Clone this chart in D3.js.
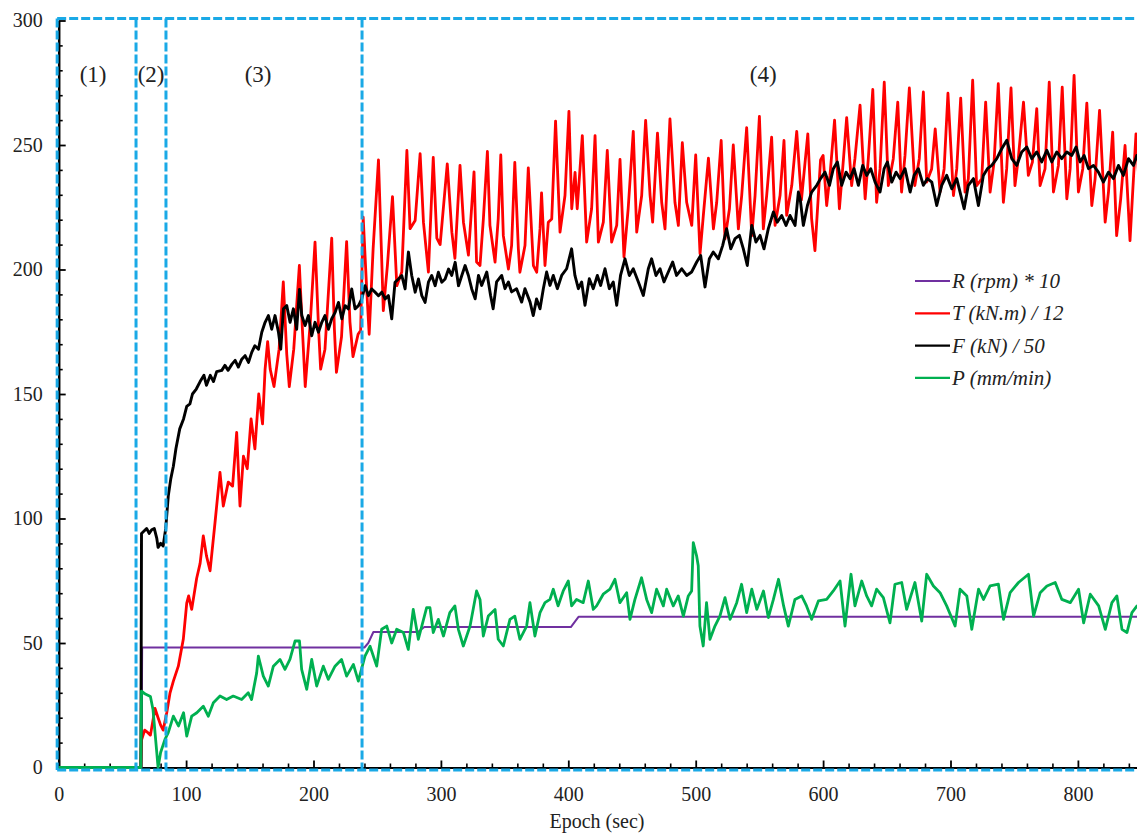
<!DOCTYPE html>
<html>
<head>
<meta charset="utf-8">
<script src="https://cdn.jsdelivr.net/npm/d3@7"></script>
<style>
  body { margin: 0; background: #fff; }
  text { font-family: "Liberation Serif", "Times New Roman", serif; }
</style>
</head>
<body>
<div id="chart"></div>
<script>
// epoch (sec), value
const rpmData = [[0,0],[65,0],[65.5,48.2],[240,48.2],[243,50],[247,54.4],[282,54.4],[287,56.4],[402,56.4],[408,60.5],[850,60.5]];

const torqueData = [
  [0,0],[64.5,0],[65,11],[67.5,15],[70,14],[72,13],[75.6,23.7],[78,20],[80,17],[82,15],[84.8,22],[87.4,30],[90,34.7],
  [93.9,40.7],[97.8,51.5],[100.5,66],[102,68.9],[104.4,63.5],[108.3,76],[111,82],[113.5,93],[116,85],[118.8,79],
  [122.7,98.4],[126.6,118.5],[129.2,105],[133.1,114.6],[136.5,113],[139.7,134.6],[142.3,105],[145,125],[148,120],
  [151,140],[154,128],[157,150],[160,138],[162,160],[164,171],[166,160],[169,153],[173,168],[176.3,195],[179,166],
  [181,153],[184.5,168],[188.9,201.6],[191,179],[193.5,153],[197.5,179],[201.2,211],[204,176],[205.6,160],[209,168],
  [214.3,212.6],[216.4,176],[218,158.7],[222,173],[226,211.2],[228.6,179],[231,165],[235,174],[237,175.5],[239,221],
  [241.6,193.5],[243.7,174],[246.8,208.3],[251,244],[253.6,203],[254.8,183.5],[258,201.6],[262,229.3],[265.4,193.5],
  [269.3,199],[273.3,247.8],[275.8,216.4],[279.8,219.7],[283.7,246.5],[286.3,219],[290.2,199],[294,245],[296.8,212.6],
  [299.4,210],[305,242.4],[308.6,215],[311,204.5],[315,241.8],[317.7,219],[321.6,205.8],[326,239.2],
  [328,203],[330.7,201.6],[333.3,220],[336.5,247.4],[338.5,217.7],[342.5,203],[345,220.3],[347,246],[349,213.6],
  [353,200.2],[355.5,209.6],[358,243],[360.8,208.3],[362,198.9],[366,209.6],[368.6,240.8],[372.6,201.6],[375.2,198.9],
  [377.8,216.3],[379,230.8],[381.7,201.6],[384.3,219],[387,220.3],[390,259.6],[393.5,215],[397.4,229.7],[400.5,263.5],
  [402.7,224.4],[405.3,239],[407,224.4],[411,253.8],[414.4,211],[418.3,224.4],[421,253.8],[423.6,211],[427.5,219],
  [430.6,247.8],[434,211],[438,217.7],[440.6,244.2],[443.7,205],[447,224.4],[451,255.5],[453.7,215],[457.6,229.7],
  [460.7,259.9],[464.2,229.7],[466.2,219],[470,254.8],[473.3,227],[475.9,216.3],[479.8,260.5],[483.7,227],[486.4,217.7],
  [489.5,250.9],[492.9,227],[496.9,217.7],[500,246],[503.4,206.3],[506,221.7],[510,244.7],[513.9,216.3],[516.5,227],
  [520,251.8],[523,212.3],[526.5,224.4],[529.5,250],[533.5,216.3],[536.1,229.7],[540,257],[544,213.6],[546.6,229.7],
  [550,261.5],[553.1,216.3],[555.7,229.7],[559.6,253.2],[562.3,217.7],[566.2,229.7],[569.3,251.8],[571.4,221.7],
  [575.4,233.7],[579.3,255.5],[583,228],
  [588,254.5],[591,220.3],[593.6,207.6],[598,244],[600,245.8],[602.8,225.7],[605.4,237.8],[609,260],[612.8,224.4],
  [616,244.5],[618.5,261],[622.4,233.7],[625,244.5],[629,266],[633,228.4],[635.5,244.5],[639,272.3],[642,227],
  [644.7,240.4],[648,275.2],[651.2,233.7],[655.1,244.5],[658.6,267.2],[661.6,231.1],[664.3,245.8],[667.7,272.9],
  [672,233.7],[675.5,244.5],[678.7,271.3],[681.3,235.1],[685.2,240.4],[688,256.5],[691.8,231.1],[695,240.4],
  [698,270.8],[702.3,229.7],[704.9,240.4],[708,268.8],[711.4,231.1],[714,236.4],[717.4,276],[720.5,233.7],
  [724.5,236.4],[727.6,267.2],[731.1,231.1],[734.2,243.1],[737.5,274.6],[741.5,227],[744.1,240.4],[747.5,272.9],
  [750.6,233.7],[753.2,244.5],[757.3,267.2],[761.1,237.8],[764.3,243.1],[767.7,264.6],[770.3,233.7],[774.2,240.4],
  [777.5,275.2],[780.8,231.1],[784.7,241.8],[787.7,273.2],[791.3,228.4],[793.9,240.4],[797,278],[800.4,231.1],
  [803.8,240.4],[807,266.8],[810.9,225.7],[813.5,236.4],[817,263.9],[821.4,219],[824,231.1],[827.3,255.2],
  [830.4,213.6],[833.6,228.4],[837,249.8],[840.9,211.6],[843,231.1],[845.6,254.5],[848,235]
];

const forceData = [
  [0,0],[64.5,0],[65,94],[67,95],[69,96],[71,94],[73,95.5],[75,96],[77,92],[78,88.4],[80,90],[82,89],[84,96],
  [86,109],[88,116],[90,121],[92,128],[95,136],[98,140],[100.5,145],[103,146],[105,150],[108,152],
  [111,155],[114,157.5],[116,153.5],[119,157.5],[121.5,155],[124,159],[128,159.5],[130.5,161.5],[133,159.5],[136,162],
  [138.5,163.5],[141,160.8],[143.7,164],[146.3,165.4],[149,162.7],[151.5,166.7],[154,169.4],[156.8,168],[159.4,174.8],
  [162,178.8],[164.6,181.5],[167.2,176],[169.8,181.5],[172.5,174.8],[174.3,168],[176.4,184.2],[179,185.5],[181.6,178.8],
  [184.2,184.2],[186.8,176],[189,192],[190.8,181.5],[193.4,177.5],[196,181.5],[198.6,173.4],[201.2,178.8],[203.9,174.8],
  [206.5,178.8],[209,181.5],[211.7,176],[214.3,180.2],[217,182.8],[219.6,186.8],[222.2,180.2],[224.8,185.5],[227.4,184.2],
  [230,192.2],[232.6,184.2],[235.3,185.5],[237.9,188.2],[240.5,193.5],[243.1,189.5],[245.7,192.2],[248.3,190.9],
  [251,189.5],[253.6,190.9],[256.2,188.2],[258.8,189.5],[261.4,180.2],[264,194.9],[266.7,196.2],[269.3,197.6],
  [271.9,192.2],[274.5,207],[277.1,197.6],[279.8,190.9],[282.4,196.2],[285,189.5],[287.6,186.8],[290.2,194.9],
  [292.8,197.6],[295.5,193.5],[298,198.9],[300.7,194.9],[303.3,196.2],[306,200.2],[308.5,197.6],[311.2,202.9],
  [313.8,193.5],[316.4,197.6],[319,201.6],[321.6,197.6],[324.2,192.2],[326.9,188.2],[329.5,197.6],
  [332,193.6],[336,199],[339,189.6],[341,184.2],[343.7,195],[347.7,197.6],[350.3,192.3],[353,195],[355.5,191],
  [359.4,192.3],[363.4,186.9],[366,192.3],[370,186.9],[372.5,181.5],[375.1,188.2],[377.8,184.2],[380.4,192.3],
  [383,199],[385.6,193.6],[388.2,197.6],[391.4,192.3],[394.8,197.6],[398.7,200.3],[402.6,208.3],[405.2,197.6],
  [407.9,192.3],[410.5,195],[413.1,185.6],[416.5,196.3],[419.6,192.3],[422.8,197.6],[425.4,193.6],[428.8,200.3],
  [432.2,192.3],[435.3,195],[438,185.6],[441,197.6],[444.5,204.3],[447.9,197.6],[451,200.3],[455,195],[458.9,189.6],
  [462.8,200.3],[465.4,204.3],[468.8,197.6],[472,200.3],[475.1,195],[478.5,199],[481.9,203],[485,197.6],[489,200.3],
  [492.9,197.6],[496.8,199],[500.8,203],[503.9,205.6],[507.3,193],[510.7,204.3],[513.8,207],[517.8,204.3],
  [521.2,209.7],[524.3,216.4],[527.5,208.3],[530.9,212.4],[534.3,213.7],[537.4,208.3],[540.5,201.6],[544,217.7],
  [547.3,211],[550.5,213.7],[553.6,208.3],[557,216.4],[561,223.1],[564,219],[567.5,221.7],[570.9,217.7],[574,221.7],
  [578,217.7],[580.6,231.1],
  [582,228.4],[584.5,217.7],[587.7,225.7],[591,231.1],[595,233.8],[598,236.5],[601.5,239.1],[605,233.8],[608,240.5],
  [611.2,243.2],[614.6,233.8],[618,239.1],[621.2,236.5],[624.3,240.5],[627.7,233.8],[631.1,241.8],[634.2,237.8],
  [637.4,240.5],[640.8,235.1],[644.7,231.1],[647.9,240.5],[650.5,243.2],[653.9,235.1],[657.3,239.1],[660.4,236.5],
  [664.3,240.5],[668.3,231.1],[671.4,237.8],[674.8,240.5],[678.7,233.8],[681.9,236.5],[685.3,235.1],[689.2,225.7],
  [693.1,233.8],[697,237.8],[701,232.4],[704.9,236.5],[707.5,231.1],[710.7,224.4],[714,233.8],[718,236.5],
  [721.9,225.7],[725.8,237.8],[729,240.5],[732.4,241.8],[736.3,244.5],[740.2,248.5],[744.2,251.9],[748.1,244.5],
  [752,241.8],[755.9,247.2],[759.9,249.2],[763.8,244.5],[767.7,247.2],[771.6,243.2],[775.6,247.9],[779.5,243.2],
  [783.4,247.2],[787.3,244.5],[791.3,247.2],[795.2,245.8],[798.6,249.2],[801.7,243.2],[804.9,245.8],[808.3,240.5],
  [812.2,241.8],[816.1,239.1],[820,235.1],[824,239.1],[827.9,236.5],[831.8,241.8],[835.7,237.8],[839.7,244.5],
  [843.6,241.8],[846.2,245.8],[848,243]
];

const penData = [
  [0,0],[64.5,0],[65,30.7],[68,29.5],[72,28.5],[74,23.3],[77,6],[78,0],[80,6],[83.4,11.3],[86,14],[90,20.6],[94,16.7],
  [98,22],[100.5,12.6],[104.4,20.6],[108.4,22],[113.5,24.6],[117.4,20.6],[121.4,26],[126.6,28.7],[131.8,27.3],
  [137,28.7],[143.6,27.3],[148.8,30],[151.4,27.3],[155.4,38],[156.7,44.7],[160.6,36.7],[164.5,32.7],[168.5,40.7],
  [173.7,43.4],[177.6,39.4],[181.5,43.4],[185.5,50.8],[189,50.8],[190.7,39.4],[194.7,31.4],[198.6,43.4],[202.5,32.7],
  [207.7,40.7],[211.6,35.4],[216.9,40.7],[222,43.4],[226,36.7],[231.3,41.4],[235.2,34.7],[240.4,44.7],[244.4,48.7],
  [249.6,40.7],[253.5,55.5],[257.5,56.8],[261.4,50],[265.3,55.5],[270.6,54.2],[274.4,47.4],[278.3,63.5],[282.3,51.5],
  [288.8,64.2],
  [291.4,64.2],[294,54.2],[298,59.5],[302,52.8],[307,62.2],[311,64.9],[313.7,55.5],[317.6,48.8],[322.9,56.8],[328,70.9],
  [330.7,67.5],[333.3,52.8],[337.2,60.8],[342.5,63.5],[345,51.5],[349,48.8],[354.2,59.5],[358,60.8],[362,51.5],
  [367.3,56.8],[369.9,66.2],[373.8,52.8],[377.8,62.2],[381.7,66.2],[385.6,67.5],[388.2,71.6],[392,64.9],[396,70.9],
  [400,74.9],[402.6,64.9],[406.5,67.5],[411.7,66.2],[415.7,74.9],[419.6,63.5],[422.2,64.9],[427.4,69.6],[432.7,71.6],
  [436.6,75.6],[440.5,66.2],[445.8,70.2],[448.4,59.5],[452.3,67.5],[457.5,76.2],[461.5,67.5],[465.4,62.2],[469.3,71.6],
  [474.6,64.9],[477.2,71.6],[482.4,64.9],[486.3,68.9],[490.3,60.8],[494.2,68.9],[496.8,70.9],[498.1,90.3],[500.7,85],
  [502,81],[503.3,56.8],[505.9,48.8],[508.5,66.2],[511.2,51.5],[515.1,56.8],[519,60.8],[523,68.2],[527,59.5],
  [532.2,66.2],[536,73.6],[540,62.2],[544,71.6],[548,63.5],[553.2,70.9],[557,60.2],[561,67.5],[565,75.6],[569,64.9],
  [572.7,56.8],[577.9,67.5],[583.2,68.9],[587,64.9],[591,59.5],[596.3,66.9],[602.8,67.5],[608,70.9],[613.3,74.9],
  [617.2,56.8],[621.9,77.6],[625,64.9],[630.3,74.9],[634.2,68.9],[638.1,64.9],[642,71.6],[647.3,68.2],[652.5,58.1],
  [656.4,73.6],[661.7,74.3],[665.6,63.5],[672.1,74.3],[677.4,58.8],[681.3,77.6],[686.6,72.9],[691.8,70.2],[697,64.9],
  [703.6,56.8],[707.5,71.6],[712.8,68.9],[716.7,55.5],[722,71.6],[725.9,67.5],[731.1,72.9],[737.6,73.6],[741.6,59.5],
  [746.8,70.2],[753.4,74.3],[761.2,77.6],[765.2,60.8],[770.4,70.2],[775.7,72.9],[782.2,74.3],[787.4,67.5],[794,66.2],
  [800.5,71.6],[804.5,58.1],[809.7,69.6],[816.3,64.9],[821.5,55.5],[826.7,66.2],[830.6,68.9],[834.6,55.5],
  [838.5,54.2],[842.4,62.2],[846.4,64.9],[850,63]
];

const seriesNames = ["R (rpm) * 10", "T (kN.m) / 12", "F (kN) / 50", "P (mm/min)"];
const regionLabels = ["(1)", "(2)", "(3)", "(4)"];
const regionLabelAt = [27, 72.5, 156.5, 553];
const regionBounds = [-1.2, 60.7, 84.2, 238.1];
const xMajorTicks = d3.range(0, 801, 100);
const yMajorTicks = d3.range(0, 301, 50);

const width = 1137;
const height = 834;
const serif = "'Liberation Serif', 'Times New Roman', serif";
const colors = ["#7030a0", "#ff0000", "#000000", "#00b050"];
const lineWidths = [2, 2.8, 2.9, 2.8];
const blue = "#1aa9e6";

const x = d3.scaleLinear().domain([0, 850]).range([58.7, 58.7 + 850 * 1.274]);
const y = d3.scaleLinear().domain([0, 300]).range([767.5, 20.5]);

const svg = d3.select("#chart").append("svg")
    .attr("width", width)
    .attr("height", height)
    .attr("viewBox", [0, 0, width, height]);

// minor ticks
svg.append("g")
    .attr("transform", `translate(0,${y(0)})`)
    .call(d3.axisBottom(x).tickValues(d3.range(0, 850, 20).filter(d => d % 100 !== 0)).tickSize(-4).tickFormat(""))
    .call(g => g.select(".domain").remove())
    .call(g => g.selectAll("line").attr("stroke-width", 1.6));
svg.append("g")
    .attr("transform", `translate(${x(0)},0)`)
    .call(d3.axisLeft(y).tickValues(d3.range(0, 300, 10).filter(d => d % 50 !== 0)).tickSize(-4).tickFormat(""))
    .call(g => g.select(".domain").remove())
    .call(g => g.selectAll("line").attr("stroke-width", 1.6));

// major axes
svg.append("g")
    .attr("transform", `translate(0,${y(0)})`)
    .call(d3.axisBottom(x).tickValues(xMajorTicks).tickSize(-7).tickSizeOuter(0).tickPadding(19))
    .call(g => g.attr("font-family", serif))
    .call(g => g.select(".domain").attr("stroke-width", 2))
    .call(g => g.selectAll("line").attr("stroke-width", 1.8))
    .call(g => g.selectAll("text").attr("font-size", 20).attr("fill", "#222"))
    .call(g => g.append("text")
        .attr("x", 597)
        .attr("y", 60)
        .attr("fill", "#222")
        .attr("text-anchor", "middle")
        .attr("font-size", 20)
        .text("Epoch (sec)"));

svg.append("g")
    .attr("transform", `translate(${x(0)},0)`)
    .call(d3.axisLeft(y).tickValues(yMajorTicks).tickSize(-7).tickSizeOuter(0).tickPadding(16))
    .call(g => g.attr("font-family", serif))
    .call(g => g.select(".domain").attr("stroke-width", 2.5))
    .call(g => g.selectAll("line").attr("stroke-width", 1.8))
    .call(g => g.selectAll("text").attr("font-size", 20).attr("fill", "#222"));

// series
const line = d3.line().x(d => x(d[0])).y(d => y(d[1]));
const allSeries = [rpmData, torqueData, forceData, penData];

svg.append("g")
    .attr("fill", "none")
    .attr("stroke-linejoin", "round")
  .selectAll("path")
  .data(allSeries)
  .join("path")
    .attr("stroke", (d, i) => colors[i])
    .attr("stroke-width", (d, i) => lineWidths[i])
    .attr("d", line);

// region boxes
const regions = svg.append("g")
    .attr("stroke", blue)
    .attr("stroke-width", 3)
    .attr("stroke-dasharray", "9,3")
    .attr("fill", "none");
regions.selectAll("line.v")
  .data(regionBounds)
  .join("line")
    .attr("class", "v")
    .attr("x1", d => x(d))
    .attr("x2", d => x(d))
    .attr("y1", y(300) - 2)
    .attr("y2", y(0) + 2.5);
regions.append("line")
    .attr("x1", x(regionBounds[0])).attr("x2", width)
    .attr("y1", y(300) - 2).attr("y2", y(300) - 2);
regions.append("line")
    .attr("x1", x(regionBounds[0])).attr("x2", width)
    .attr("y1", y(0) + 2.5).attr("y2", y(0) + 2.5);

svg.append("g")
    .attr("font-size", 23)
    .attr("font-family", serif)
    .attr("fill", "#222")
    .attr("text-anchor", "middle")
  .selectAll("text")
  .data(regionLabels)
  .join("text")
    .attr("x", (d, i) => x(regionLabelAt[i]))
    .attr("y", 82)
    .text(d => d);

// legend
const legend = svg.append("g")
  .selectAll("g")
  .data(seriesNames)
  .join("g")
    .attr("transform", (d, i) => `translate(915,${281 + i * 32.3})`);
legend.append("line")
    .attr("x1", 0).attr("x2", 35)
    .attr("stroke", (d, i) => colors[i])
    .attr("stroke-width", 2.2);
legend.append("text")
    .attr("x", 37)
    .attr("y", 7)
    .attr("font-size", 21)
    .attr("font-style", "italic")
    .attr("font-family", serif)
    .attr("fill", "#222")
    .text(d => d);
</script>
</body>
</html>
